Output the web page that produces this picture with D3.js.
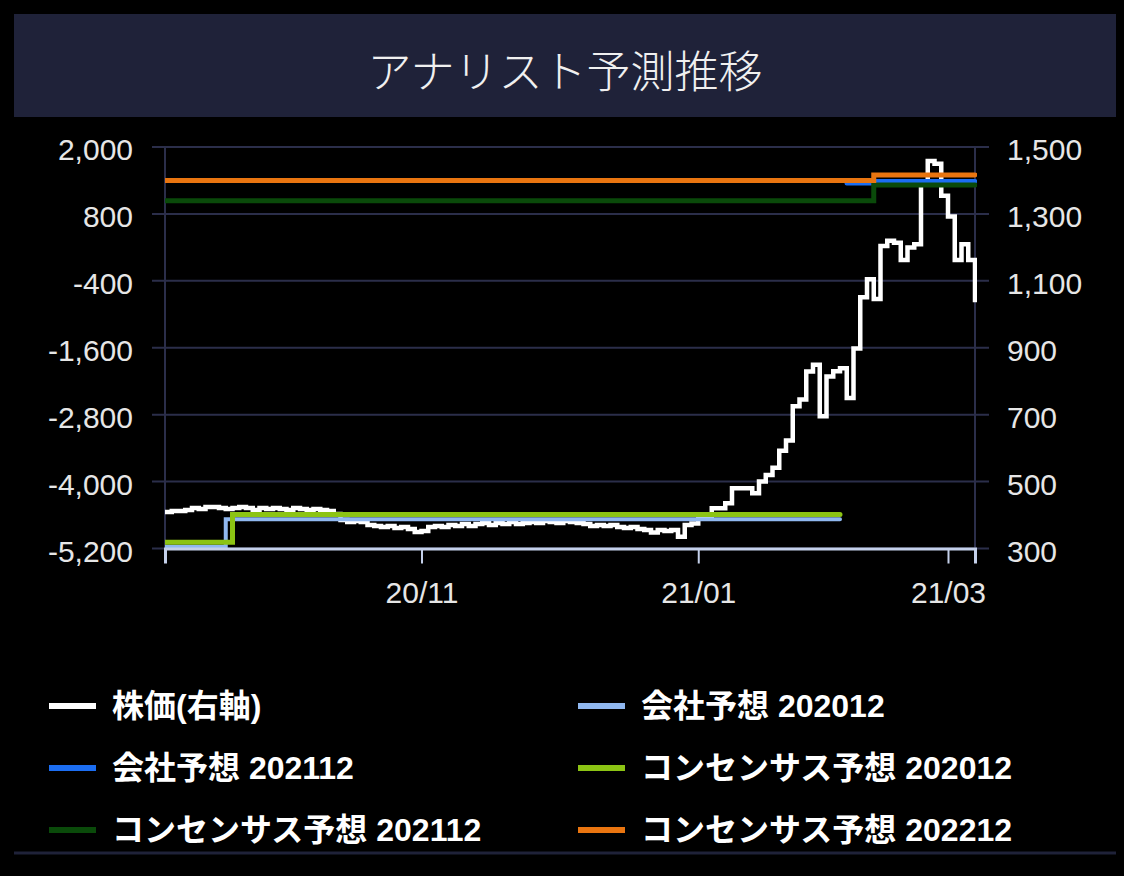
<!DOCTYPE html>
<html>
<head>
<meta charset="utf-8">
<script src="https://cdn.jsdelivr.net/npm/d3@7"></script>
<style>
  body { margin: 0; background: #000; }
  svg { display: block; }
  .axis text { font-family: "Liberation Sans", Arial, sans-serif; font-size: 30px; fill: #e6e6e6; }
  .legend text { font-family: "Liberation Sans", "Noto Sans CJK JP", sans-serif; font-size: 32px; font-weight: bold; fill: #fff; }
</style>
</head>
<body>
<div id="chart-container"></div>
<script>
/**
 * DATA
 * */
// daily close (right axis), one value per trading day
const prices = [
  409, 412, 412, 415, 421, 418, 424, 424, 421, 418,
  421, 424, 421, 415, 421, 418, 421, 418, 415, 421,
  418, 415, 418, 415, 412, 403, 385, 379, 382, 379,
  370, 367, 364, 367, 361, 364, 358, 349, 352, 364,
  367, 364, 370, 367, 373, 367, 373, 376, 370, 376,
  373, 379, 373, 376, 379, 376, 382, 379, 376, 382,
  379, 376, 373, 367, 370, 367, 370, 364, 361, 364,
  358, 355, 348, 355, 352, 355, 335, 370, 375, 390,
  395, 420, 420, 435, 480, 480, 480, 465, 500, 520,
  541, 592, 623, 725, 745, 829, 849, 695, 814, 830,
  839, 750, 898, 1051, 1105, 1046, 1204, 1220, 1214, 1162,
  1200, 1209, 1390, 1458, 1450, 1354, 1292, 1162, 1209, 1162,
  1036
];

const xTickIndex = [38, 79, 116];
const xTickLabels = ["20/11", "21/01", "21/03"];
const leftTicks = [-5200, -4000, -2800, -1600, -400, 800, 2000];
const rightTicks = [300, 500, 700, 900, 1100, 1300, 1500];

// forecasts (left axis): [day index, value], drawn as steps
const companyFc202012 = [[0, -5170], [9, -4675], [100, -4675]];
const companyFc202112 = [[101, 1350], [105, 1385], [120, 1385]];
const consensusFc202012 = [[0, -5090], [10, -4590], [100, -4590]];
const consensusFc202112 = [[0, 1035], [105, 1320], [120, 1320]];
const consensusFc202212 = [[0, 1400], [105, 1500], [120, 1500]];

const seriesNames = [
  "株価(右軸)", "会社予想 202012", "会社予想 202112",
  "コンセンサス予想 202012", "コンセンサス予想 202112", "コンセンサス予想 202212"
];
const seriesColors = ["#ffffff", "#90b8f0", "#1c6ef2", "#8cc414", "#0a4a0a", "#e97510"];

const width = 1124,
  height = 876,
  margin = { top: 147, bottom: 327.5, left: 165, right: 149 };

const svg = d3
  .select("#chart-container")
  .append("svg")
  .attr("width", width)
  .attr("height", height);

// title bar
svg.append("rect")
  .attr("x", 14).attr("y", 14)
  .attr("width", width - 22).attr("height", 103)
  .attr("fill", "#1f2239");

svg.append("text")
  .attr("x", width / 2 + 3)
  .attr("y", 88)
  .attr("text-anchor", "middle")
  .attr("font-family", "'Noto Sans CJK JP', sans-serif")
  .attr("font-weight", 300)
  .attr("font-size", 44)
  .attr("fill", "#f0f0f0")
  .text("アナリスト予測推移");

// SCALES
const xScale = d3
  .scaleLinear()
  .domain([0, prices.length - 1])
  .range([margin.left, width - margin.right]);

const yLeft = d3
  .scaleLinear()
  .domain([-5200, 2000])
  .range([height - margin.bottom, margin.top]);

const yRight = d3
  .scaleLinear()
  .domain([300, 1500])
  .range([height - margin.bottom, margin.top]);

// gridlines (also forming the small outer ticks)
svg.append("g")
  .selectAll("line")
  .data(leftTicks)
  .join("line")
  .attr("x1", margin.left - 13)
  .attr("x2", width - margin.right + 14)
  .attr("y1", (d) => yLeft(d))
  .attr("y2", (d) => yLeft(d))
  .attr("stroke", "#2b2e4a")
  .attr("stroke-width", 2);

svg.append("g")
  .selectAll("line")
  .data([margin.left, width - margin.right])
  .join("line")
  .attr("x1", (d) => d).attr("x2", (d) => d)
  .attr("y1", margin.top)
  .attr("y2", height - margin.bottom)
  .attr("stroke", "#2b2e4a")
  .attr("stroke-width", 2);

// AXES
const fmt = (d) => d3.format(",")(d).replace("\u2212", "-");

const yAxisLeft = d3.axisLeft(yLeft).tickValues(leftTicks).tickFormat(fmt).tickSize(0).tickPadding(32);
const yAxisRight = d3.axisRight(yRight).tickValues(rightTicks).tickFormat(fmt).tickSize(0).tickPadding(32);
const xAxis = d3
  .axisBottom(xScale)
  .tickValues(xTickIndex)
  .tickFormat((d, i) => xTickLabels[i])
  .tickSize(15)
  .tickPadding(18);

svg.append("g")
  .attr("class", "axis y-left")
  .attr("transform", `translate(${margin.left},0)`)
  .call(yAxisLeft)
  .call((g) => g.select(".domain").remove())
  .call((g) => g.selectAll("text").attr("dy", "0.42em"));

svg.append("g")
  .attr("class", "axis y-right")
  .attr("transform", `translate(${width - margin.right},0)`)
  .call(yAxisRight)
  .call((g) => g.select(".domain").remove())
  .call((g) => g.selectAll("text").attr("dy", "0.42em"));

// clip the lines to the plot
svg.append("clipPath")
  .attr("id", "plot-clip")
  .append("rect")
  .attr("x", margin.left)
  .attr("y", margin.top - 10)
  .attr("width", width - margin.left - margin.right + 2)
  .attr("height", height - margin.top - margin.bottom + 14);

const plot = svg.append("g").attr("clip-path", "url(#plot-clip)");

// price line (right axis)
const priceLine = d3
  .line()
  .x((d, i) => xScale(i))
  .y((d) => yRight(d))
  .curve(d3.curveStepAfter);

plot.append("path")
  .datum(prices)
  .attr("d", priceLine)
  .attr("fill", "none")
  .attr("stroke", seriesColors[0])
  .attr("stroke-width", 4.5);

// forecast lines (left axis)
const fcLine = d3
  .line()
  .x((d) => xScale(d[0]))
  .y((d) => yLeft(d[1]))
  .curve(d3.curveStepAfter);

const forecasts = [
  { data: companyFc202012, color: seriesColors[1], w: 4 },
  { data: companyFc202112, color: seriesColors[2], w: 4.5 },
  { data: consensusFc202012, color: seriesColors[3], w: 5 },
  { data: consensusFc202112, color: seriesColors[4], w: 5 },
  { data: consensusFc202212, color: seriesColors[5], w: 5 },
];

plot.selectAll(".fc")
  .data(forecasts)
  .join("path")
  .attr("class", "fc")
  .attr("d", (d) => fcLine(d.data))
  .attr("fill", "none")
  .attr("stroke", (d) => d.color)
  .attr("stroke-width", (d) => d.w)
  .attr("stroke-linecap", "round");

// x axis on top of the lines
svg.append("g")
  .attr("class", "axis x-axis")
  .attr("transform", `translate(0,${height - margin.bottom})`)
  .call(xAxis)
  .call((g) => g.select(".domain").attr("stroke", "#c4d0ea").attr("stroke-width", 3))
  .call((g) => g.selectAll(".tick line").attr("stroke", "#c4d0ea").attr("stroke-width", 2));

// LEGEND
const legendCols = [49, 578],
  legendRows = [706, 768, 830];

const legend = svg
  .append("g")
  .attr("class", "legend")
  .selectAll("g")
  .data(seriesNames)
  .join("g")
  .attr("transform", (d, i) => `translate(${legendCols[i % 2]},${legendRows[Math.floor(i / 2)]})`);

legend.append("line")
  .attr("x1", 0).attr("x2", 47)
  .attr("stroke", (d, i) => seriesColors[i])
  .attr("stroke-width", 6);

legend.append("text")
  .attr("x", 63)
  .attr("dy", "0.35em")
  .text((d) => d);

svg.append("line")
  .attr("x1", 14).attr("x2", width - 8)
  .attr("y1", 853).attr("y2", 853)
  .attr("stroke", "#1f2239")
  .attr("stroke-width", 3);
</script>
</body>
</html>
